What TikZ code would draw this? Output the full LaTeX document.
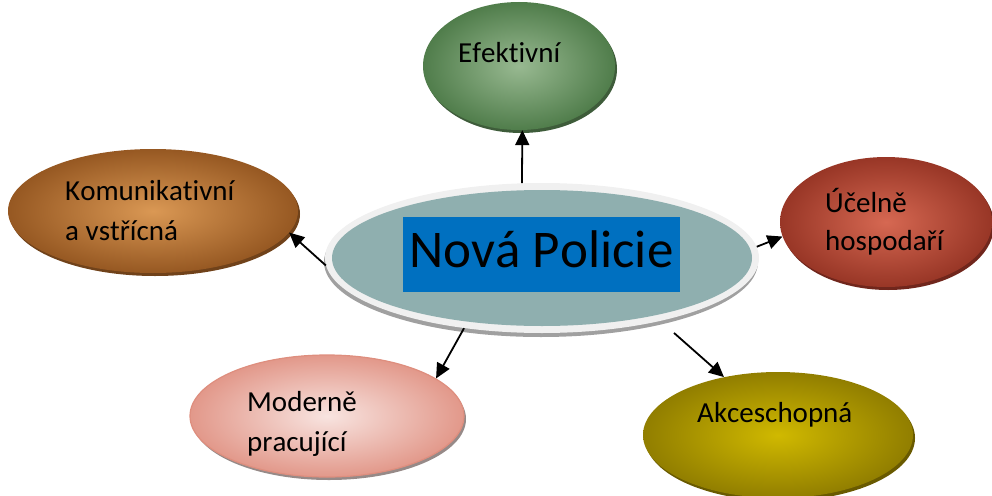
\documentclass[tikz,border=0pt]{standalone}
\usepackage{fontspec}
\setmainfont[Kerning=Off,Ligatures=NoCommon]{Carlito}
\usetikzlibrary{shapes.geometric,arrows.meta,shadows}
\definecolor{greenin}{RGB}{152,185,145}
\definecolor{greenout}{RGB}{80,125,75}
\definecolor{greenrim}{RGB}{62,92,58}
\definecolor{brownin}{RGB}{218,152,84}
\definecolor{brownout}{RGB}{150,88,34}
\definecolor{brownrim}{RGB}{112,66,26}
\definecolor{redin}{RGB}{214,104,82}
\definecolor{redout}{RGB}{152,54,38}
\definecolor{redrim}{RGB}{112,38,28}
\definecolor{pinkin}{RGB}{248,228,224}
\definecolor{pinkout}{RGB}{226,152,138}
\definecolor{pinkline}{RGB}{222,142,126}
\definecolor{pinkrim}{RGB}{150,138,136}
\definecolor{olivein}{RGB}{208,185,0}
\definecolor{oliveout}{RGB}{145,126,0}
\definecolor{oliverim}{RGB}{105,90,0}
\definecolor{polteal}{RGB}{143,175,175}
\definecolor{polring}{RGB}{240,240,240}
\definecolor{polshadow}{RGB}{160,160,160}
\definecolor{polblue}{RGB}{0,112,192}
\begin{document}
\begin{tikzpicture}[x=1pt,y=-1pt,
  bubble/.style n args={3}{ellipse, inner sep=0pt, shading=radial, inner color=#1, outer color=#2,
    drop shadow={shadow xshift=2pt, shadow yshift=-3pt, opacity=1, fill=#3}},
  lbl/.style={font=\fontsize{29}{35}\selectfont, anchor=base west, inner sep=0pt},
  conn/.style={line width=1.8pt, -{Triangle[width=14pt,length=15pt]}}
]
\useasboundingbox (0,0) rectangle (992,495);

% outer bubbles
\node[bubble={greenin}{greenout}{greenrim}, minimum width=192pt, minimum height=128pt] (efek) at (519,66) {};
\node[bubble={brownin}{brownout}{brownrim}, minimum width=290pt, minimum height=124pt] (komu) at (153,211) {};
\node[bubble={redin}{redout}{redrim}, minimum width=212pt, minimum height=130pt] (ucel) at (886,222) {};
\node[bubble={pinkin}{pinkout}{pinkrim}, draw=pinkline, line width=1.2pt, minimum width=274pt, minimum height=122pt] (mod) at (327,416) {};
\node[bubble={olivein}{oliveout}{oliverim}, minimum width=270pt, minimum height=126pt] (akce) at (778,435) {};

% central bubble
\node[ellipse, inner sep=0pt, minimum width=434pt, minimum height=150pt, fill=polring,
  drop shadow={shadow xshift=-1pt, shadow yshift=-4pt, opacity=1, fill=polshadow}] (nova) at (542,258) {};
\node[ellipse, inner sep=0pt, minimum width=420pt, minimum height=136pt, fill=polteal] (novain) at (542,258) {};
\node[fill=polblue, inner sep=0pt, minimum width=277pt, minimum height=75pt, text height=35pt, text depth=10pt,
  font=\fontsize{53}{62}\selectfont] (title) at (541.5,254.5) {Nová Policie};

% connectors
\draw[conn] (nova.105) -- (efek.-87);
\draw[conn] (nova.182) -- (komu.-9);
\draw[conn] (nova.3) -- (ucel.188);
\draw[conn] (nova.222) -- (mod.19);
\draw[conn, shorten <=18pt] (nova.-28) -- (akce.133);

% labels
\node[lbl] (t1) at (458,63) {Efektivní};
\node[lbl] (t2a) at (65,200) {Komunikativní};
\node[lbl] (t2b) at (65,240) {a vstřícná};
\node[lbl] (t3a) at (825,212) {Účelně};
\node[lbl] (t3b) at (825,250) {hospodaří};
\node[lbl] (t4a) at (247,411) {Moderně};
\node[lbl] (t4b) at (247,451) {pracující};
\node[lbl] (t5) at (697,422) {Akceschopná};
\end{tikzpicture}
\end{document}
